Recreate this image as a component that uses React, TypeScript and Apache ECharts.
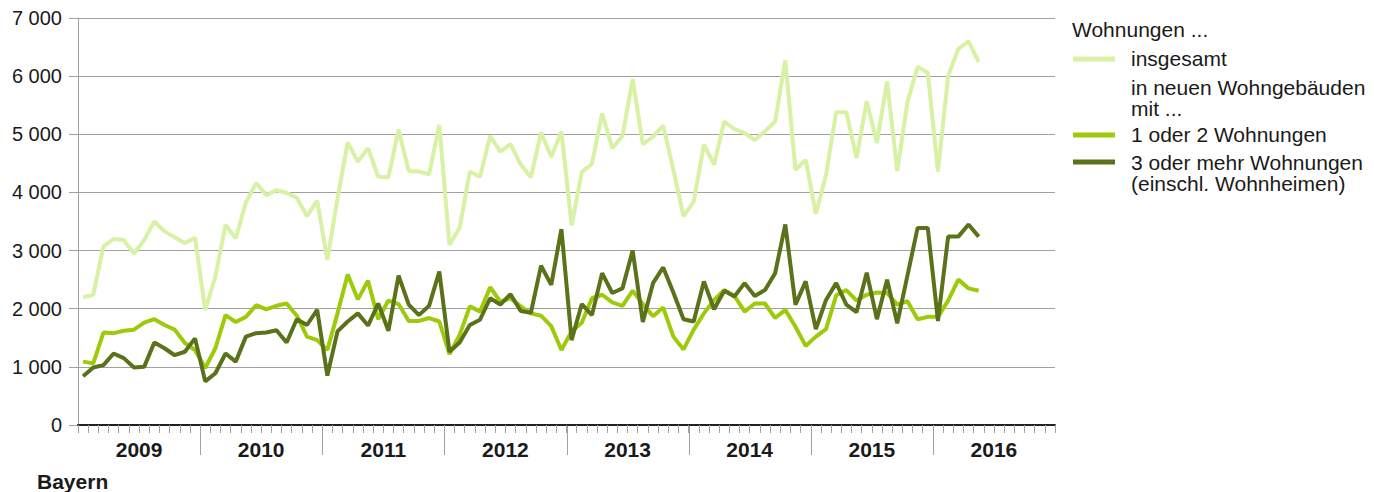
import React, { useEffect, useRef } from "react";
import * as echarts from "echarts";

const years = ["2009", "2010", "2011", "2012", "2013", "2014", "2015", "2016"];
const months = years.flatMap((y) =>
  ["01", "02", "03", "04", "05", "06", "07", "08", "09", "10", "11", "12"].map((m) => `${y}-${m}`)
);

const insgesamt = [
  2200, 2240, 3070, 3200, 3180, 2950, 3180, 3500, 3330, 3230, 3130, 3220,
  1980, 2550, 3440, 3210, 3830, 4160, 3950, 4040, 3990, 3910, 3590, 3860,
  2840, 3900, 4860, 4530, 4760, 4270, 4260, 5080, 4370, 4360, 4310, 5160,
  3100, 3390, 4360, 4270, 4970, 4700, 4830, 4480, 4260, 5030, 4610, 5050,
  3430, 4350, 4490, 5360, 4760, 4970, 5950, 4830, 4960, 5150, 4390, 3590,
  3840, 4820, 4480, 5220, 5090, 5020, 4900, 5050, 5220, 6270, 4390, 4560,
  3630, 4300, 5380, 5380, 4590, 5570, 4850, 5910, 4370, 5550, 6160, 6060,
  4360, 6000, 6470, 6600, 6240,
];

const einZwei = [
  1090, 1060, 1590, 1580, 1620, 1640, 1760, 1820, 1720, 1640, 1410, 1290,
  980, 1320, 1890, 1770, 1860, 2060, 1990, 2050, 2090, 1880, 1520, 1460,
  1290, 1920, 2590, 2160, 2480, 1820, 2140, 2080, 1790, 1790, 1840, 1780,
  1220, 1550, 2040, 1950, 2370, 2120, 2180, 2040, 1920, 1880, 1700, 1290,
  1610, 1760, 2180, 2240, 2110, 2050, 2310, 2080, 1870, 2020, 1520, 1300,
  1640, 1920, 2150, 2320, 2220, 1950, 2090, 2090, 1840, 1980, 1690, 1360,
  1520, 1650, 2230, 2320, 2140, 2240, 2280, 2270, 2070, 2130, 1820, 1860,
  1860, 2140, 2500, 2350, 2310,
];

const dreiMehr = [
  840, 990, 1030, 1230, 1150, 990, 1000, 1420, 1320, 1200, 1260, 1490,
  750, 890, 1230, 1090, 1520, 1580, 1590, 1630, 1420, 1820, 1720, 1980,
  850, 1610, 1780, 1920, 1710, 2090, 1620, 2570, 2070, 1890, 2050, 2640,
  1260, 1420, 1720, 1810, 2180, 2070, 2250, 1960, 1930, 2740, 2410, 3370,
  1460, 2080, 1890, 2610, 2270, 2350, 3000, 1770, 2440, 2710, 2280, 1820,
  1780, 2470, 1990, 2310, 2210, 2440, 2220, 2320, 2610, 3450, 2070, 2470,
  1650, 2150, 2440, 2070, 1940, 2620, 1820, 2500, 1750, 2570, 3390, 3390,
  1790, 3240, 3240, 3450, 3240,
];

const yTicks = { min: 0, max: 7000, interval: 1000 };

const COLORS = { light: "#d7f2a4", mid: "#9dca0a", dark: "#5a7219" };
const FONT = "'Liberation Sans', Arial, Helvetica, sans-serif";
const TEXT = "#1a1a1a";
const GRID = "#a0a0a0";

const legendItems = [
  { lines: ["insgesamt"], color: COLORS.light, textY: 58, lineY: 59 },
  { lines: ["in neuen Wohngebäuden", "mit ..."], color: null, textY: 87.5, lineY: 0 },
  { lines: ["1 oder 2 Wohnungen"], color: COLORS.mid, textY: 134, lineY: 135 },
  { lines: ["3 oder mehr Wohnungen", "(einschl. Wohnheimen)"], color: COLORS.dark, textY: 162.5, lineY: 162 },
];

function fmt(v: number) {
  return String(v).replace(/\B(?=(\d{3})+(?!\d))/g, " ");
}

export default function App() {
  const ref = useRef<HTMLDivElement>(null);
  useEffect(() => {
    if (!ref.current) return;
    const chart = echarts.init(ref.current, undefined, { renderer: "svg" });
    const graphics: any[] = [
      {
        type: "text",
        left: 37,
        top: 471,
        style: { text: "Bayern", font: `bold 21px ${FONT}`, fill: TEXT },
      },
      {
        type: "text",
        x: 1072,
        y: 29,
        style: { text: "Wohnungen ...", font: `21px ${FONT}`, fill: TEXT, verticalAlign: "middle" },
      },
    ];
    legendItems.forEach((it) => {
      if (it.color) {
        graphics.push({
          type: "line",
          shape: { x1: 1073, y1: it.lineY, x2: 1115, y2: it.lineY },
          style: { stroke: it.color, lineWidth: 5 },
        });
      }
      it.lines.forEach((ln, k) => {
        graphics.push({
          type: "text",
          x: 1131,
          y: it.textY + k * 20.5,
          style: {
            text: ln,
            font: `21px ${FONT}`,
            fill: TEXT,
            verticalAlign: "middle",
          },
        });
      });
    });

    const option: any = {
      animation: false,
      textStyle: { fontFamily: FONT },
      grid: { left: 78, right: 319, top: 18, bottom: 67, containLabel: false },
      xAxis: [
        {
          type: "category",
          data: months,
          boundaryGap: true,
          position: "bottom",
          axisLine: { show: true, lineStyle: { color: "#222", width: 2 } },
          axisTick: { show: true, interval: 0, length: 8, lineStyle: { color: GRID, width: 1 } },
          axisLabel: { show: false },
          splitLine: { show: false },
          z: 3,
        },
        {
          type: "category",
          data: years,
          boundaryGap: true,
          position: "bottom",
          axisLine: { show: false },
          axisTick: { show: false },
          axisLabel: { show: true, interval: 0, margin: 14, color: TEXT, fontSize: 21, fontWeight: "bold", fontFamily: FONT },
          splitLine: { show: false },
        },
      ],
      yAxis: {
        type: "value",
        min: yTicks.min,
        max: yTicks.max,
        interval: yTicks.interval,
        axisLine: { show: true, lineStyle: { color: GRID, width: 1 } },
        axisTick: { show: true, length: 9, lineStyle: { color: GRID } },
        axisLabel: { margin: 16, color: TEXT, fontSize: 20, fontFamily: FONT, formatter: (v: number) => fmt(v) },
        splitLine: { show: true, lineStyle: { color: GRID, width: 1 } },
      },
      series: [
        {
          name: "insgesamt",
          type: "line",
          data: insgesamt,
          symbol: "none",
          lineStyle: { color: COLORS.light, width: 4 },
          itemStyle: { color: COLORS.light },
        },
        {
          name: "1 oder 2 Wohnungen",
          type: "line",
          data: einZwei,
          symbol: "none",
          lineStyle: { color: COLORS.mid, width: 4 },
          itemStyle: { color: COLORS.mid },
        },
        {
          name: "3 oder mehr Wohnungen (einschl. Wohnheimen)",
          type: "line",
          data: dreiMehr,
          symbol: "none",
          lineStyle: { color: COLORS.dark, width: 4 },
          itemStyle: { color: COLORS.dark },
        },
      ],
      graphic: graphics,
    };
    chart.setOption(option);

    // year separators between years, positioned through the axis scale
    const x0 = chart.convertToPixel({ xAxisIndex: 0 }, months[0]) as number;
    const x1 = chart.convertToPixel({ xAxisIndex: 0 }, months[1]) as number;
    const band = x1 - x0;
    const yBase = chart.convertToPixel({ yAxisIndex: 0 }, 0) as number;
    const seps: any[] = [];
    years.slice(1).forEach((y) => {
      const px = (chart.convertToPixel({ xAxisIndex: 0 }, `${y}-01`) as number) - band / 2;
      const xr = Math.round(px) + 0.5;
      seps.push({
        type: "line",
        shape: { x1: xr, y1: yBase + 1, x2: xr, y2: yBase + 30 },
        style: { stroke: GRID, lineWidth: 1 },
      });
    });
    chart.setOption({ graphic: graphics.concat(seps) });
    return () => chart.dispose();
  }, []);
  return (
    <div
      ref={ref}
      style={{ position: "absolute", left: 0, top: 0, width: 1374, height: 492 }}
    />
  );
}
